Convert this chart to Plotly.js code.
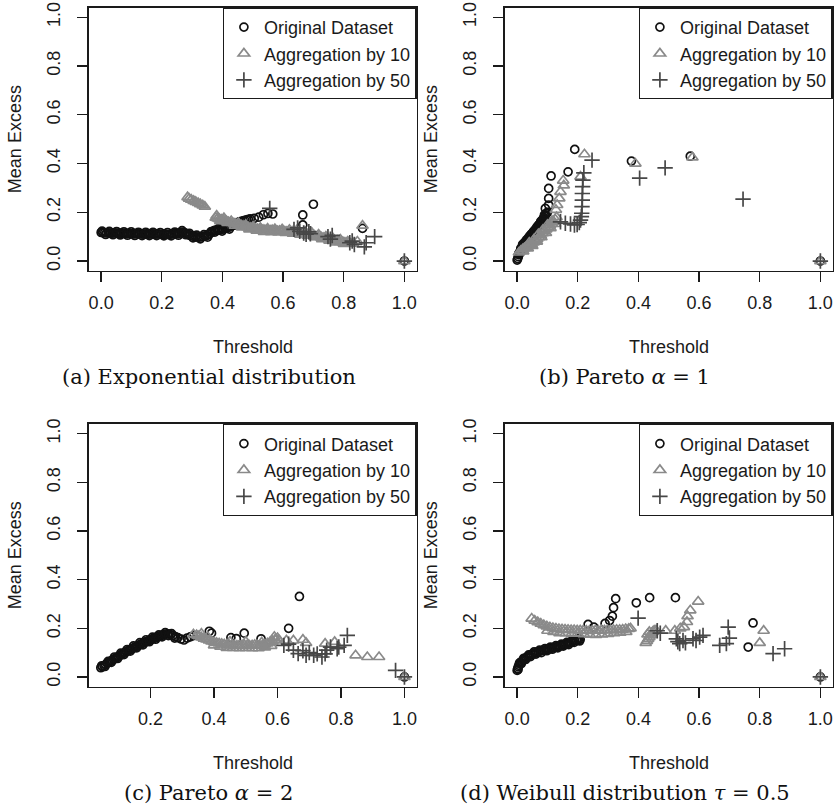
<!DOCTYPE html>
<html>
<head>
<meta charset="utf-8">
<script src="https://cdn.plot.ly/plotly-3.0.1.min.js"></script>
<style>
  html, body { margin: 0; padding: 0; background: #ffffff; }
  #chart { width: 836px; height: 807px; }
</style>
</head>
<body>
<div id="chart"></div>
<script>
// Mean excess plots: [threshold, mean excess] pairs for each data set.

// (a) Exponential distribution
const expOriginal = [
  [0,.117],[.006,.116],[.012,.117],[.018,.115],[.024,.116],[.03,.115],[.036,.114],[.042,.116],[.048,.115],[.054,.114],
  [.06,.113],[.066,.115],[.072,.114],[.078,.113],[.084,.112],[.09,.114],[.096,.113],[.102,.112],[.108,.111],[.114,.113],
  [.12,.112],[.126,.111],[.132,.112],[.138,.11],[.144,.111],[.15,.112],[.156,.11],[.162,.111],[.168,.112],[.174,.111],
  [.18,.11],[.186,.112],[.192,.111],[.198,.11],[.204,.109],[.21,.111],[.216,.11],[.222,.109],[.228,.11],[.234,.111],
  [.24,.112],[.246,.113],[.252,.112],[.258,.114],[.264,.117],[.27,.119],[.276,.116],[.282,.112],[.288,.108],[.294,.105],
  [.3,.103],[.306,.101],[.312,.099],[.318,.098],[.324,.098],[.33,.099],[.336,.1],[.342,.102],[.348,.104],[.354,.108],
  [.36,.114],[.366,.12],[.372,.125],[.378,.127],[.384,.126],[.39,.128],[.396,.13],[.402,.131],[.408,.133],[.414,.135],
  [.42,.138],[.426,.141],[.432,.144],[.438,.148],[.444,.155],[.45,.158],[.456,.161],[.462,.163],[.468,.165],[.474,.167],
  [.48,.169],[.486,.171],[.492,.173],
  [.003,.123],[.015,.109],[.027,.122],[.039,.108],[.051,.121],[.063,.107],[.075,.12],[.087,.106],[.099,.12],[.111,.105],
  [.123,.118],[.135,.104],[.147,.118],[.159,.104],[.171,.118],[.183,.104],[.195,.117],[.207,.103],[.219,.117],[.231,.103],
  [.243,.119],[.255,.106],[.267,.125],[.279,.108],[.291,.114],[.303,.095],[.315,.106],[.327,.091],[.339,.108],[.351,.098],
  [.363,.121],[.375,.119],[.387,.133],[.399,.123],[.411,.14],[.423,.131],[.435,.15],[.447,.149],
  [.505,.175],[.52,.18],[.535,.19],[.55,.195],[.566,.193],
  [.665,.189],[.665,.148],[.70,.233],[.862,.134],[1,0]
];
const expAgg10 = [
  [.285,.262],[.29,.256],[.297,.252],[.305,.247],[.312,.243],[.32,.238],[.327,.233],[.335,.228],[.342,.223],
  [.378,.178],[.384,.175],[.39,.172],[.396,.17],[.402,.168],[.408,.165],[.414,.163],[.42,.16],[.426,.158],[.432,.156],
  [.438,.154],[.444,.152],[.45,.15],[.456,.148],[.462,.146],[.468,.144],[.474,.142],[.48,.14],[.486,.138],[.492,.136],
  [.498,.135],[.504,.133],[.51,.132],[.516,.131],[.522,.13],[.528,.129],[.534,.128],[.54,.127],[.546,.127],[.552,.126],
  [.558,.125],[.564,.127],[.57,.124],[.576,.125],[.582,.123],[.588,.124],[.594,.122],[.6,.124],[.606,.121],[.612,.12],
  [.618,.122],[.624,.119],[.63,.121],[.636,.117],[.642,.118],[.648,.122],[.654,.115],[.66,.112],[.666,.114],[.672,.11],
  [.678,.112],[.684,.107],[.69,.109],[.696,.113],[.702,.105],[.708,.101],[.714,.099],[.72,.103],[.726,.097],[.732,.095],
  [.738,.093],[.744,.096],[.75,.091],[.756,.089],[.762,.086],[.768,.084],[.774,.081],[.78,.083],[.786,.079],[.792,.081],
  [.798,.077],[.804,.075],[.81,.073],[.816,.076],[.822,.071],[.83,.073],[.845,.08],
  [.381,.186],[.393,.164],[.405,.176],[.417,.156],[.429,.164],[.441,.145],[.453,.156],[.465,.138],[.477,.148],[.489,.13],
  [.501,.141],[.513,.125],[.525,.136],[.537,.12],[.549,.133],[.561,.119],[.573,.131],[.585,.117],[.597,.13],[.609,.115],
  [.621,.128],[.633,.112],[.645,.126],[.657,.108],[.669,.12],[.681,.104],[.693,.117],[.705,.098],[.717,.108],[.729,.09],
  [.741,.1],[.753,.084],[.765,.092],[.777,.076],[.789,.088],[.801,.07],[.813,.08],
  [.862,.145],[1,0]
];
const expAgg50 = [
  [.556,.216],[.636,.13],[.648,.136],[.655,.122],[.668,.115],[.676,.11],[.685,.12],[.69,.112],[.748,.1],[.756,.09],
  [.762,.105],[.82,.075],[.828,.082],[.835,.068],[.868,.058],[.874,.075],[.902,.1],[1,0]
];

// (b) Pareto alpha = 1
const par1Original = [
  [0,.004],[.002,.01],[.004,.018],[.006,.026],[.008,.033],[.01,.04],[.013,.047],[.016,.053],[.019,.058],[.022,.064],
  [.025,.069],[.028,.074],[.031,.079],[.034,.084],[.037,.089],[.04,.094],[.043,.099],[.046,.104],[.049,.109],[.052,.114],
  [.055,.119],[.058,.124],[.061,.129],[.064,.134],[.067,.139],[.07,.144],[.073,.149],[.076,.155],[.079,.16],[.082,.166],
  [.085,.172],[.088,.178],[.091,.184],[.094,.19],[.097,.196],[.1,.2],
  [.005,.03],[.012,.052],[.018,.068],[.024,.075],[.03,.086],[.036,.094],[.042,.104],[.048,.112],[.054,.122],[.06,.13],
  [.066,.141],[.072,.149],[.078,.163],[.084,.168],[.09,.189],[.015,.045],[.03,.07],[.045,.095],[.06,.12],[.075,.148],
  [.09,.175],
  [.093,.216],[.104,.23],[.104,.257],[.104,.298],[.112,.349],[.168,.366],[.19,.458],[.377,.41],[.571,.43],[1,0]
];
const par1Agg10 = [
  [.006,.035],[.012,.042],[.018,.048],[.024,.053],[.03,.058],[.036,.062],[.042,.066],[.048,.07],[.054,.076],[.06,.082],
  [.066,.09],[.072,.098],[.078,.106],[.084,.114],[.09,.122],[.096,.13],[.102,.138],[.108,.146],[.114,.154],[.12,.162],
  [.126,.17],[.13,.18],
  [.02,.04],[.035,.052],[.05,.062],[.065,.08],[.08,.098],[.095,.115],[.11,.135],[.125,.152],[.04,.075],[.055,.088],
  [.07,.11],[.085,.128],[.1,.148],[.115,.165],
  [.128,.21],[.132,.23],[.139,.257],[.143,.284],[.154,.31],[.152,.33],[.209,.346],[.222,.438],
  [.39,.40],[.578,.425],[1,0]
];
const par1Agg50 = [
  [.143,.161],[.159,.155],[.176,.152],[.189,.148],[.198,.15],[.205,.158],[.209,.168],[.212,.182],[.213,.196],[.214,.223],
  [.215,.25],[.215,.277],[.216,.305],[.217,.332],[.22,.362],[.247,.414],[.404,.34],[.488,.382],[.745,.254],[1,0]
];

// (c) Pareto alpha = 2
const par2Original = [
  [.043,.038],[.048,.042],[.053,.047],[.058,.051],[.063,.056],[.068,.06],[.073,.064],[.078,.068],[.083,.072],[.088,.076],
  [.093,.08],[.098,.084],[.103,.088],[.108,.092],[.113,.096],[.118,.1],[.123,.103],[.128,.107],[.133,.11],[.138,.114],
  [.143,.117],[.148,.121],[.153,.124],[.158,.127],[.163,.13],[.168,.134],[.173,.137],[.178,.14],[.183,.143],[.188,.146],
  [.193,.149],[.198,.152],[.203,.155],[.208,.158],[.213,.16],[.218,.163],[.223,.165],[.228,.168],[.233,.17],[.238,.172],
  [.243,.174],[.248,.176],[.255,.177],[.262,.174],[.27,.17],[.278,.166],[.286,.162],[.296,.156],[.305,.152],[.315,.16],
  [.325,.165],[.335,.17],
  [.046,.046],[.056,.043],[.066,.064],[.076,.06],[.086,.082],[.096,.076],[.106,.098],[.116,.092],[.126,.113],[.136,.106],
  [.146,.128],[.156,.12],[.166,.141],[.176,.132],[.186,.153],[.196,.145],[.206,.164],[.216,.155],[.226,.173],[.236,.165],
  [.246,.182],[.256,.17],[.266,.178],[.276,.16],
  [.385,.188],[.392,.18],[.453,.162],[.47,.158],[.495,.18],[.548,.157],[.635,.2],[.669,.331],[1,0]
];
const par2Agg10 = [
  [.335,.175],[.345,.172],[.352,.168],[.36,.163],[.368,.158],[.376,.154],[.384,.15],[.392,.146],[.4,.143],[.408,.14],
  [.416,.138],[.424,.136],[.432,.134],[.44,.132],[.448,.131],[.456,.13],[.464,.13],[.472,.129],[.48,.13],[.488,.13],
  [.496,.131],[.504,.13],[.512,.129],[.52,.13],[.528,.132],[.536,.131],[.544,.129],[.552,.13],[.56,.134],[.568,.138],
  [.576,.142],[.584,.147],[.592,.153],[.6,.16],[.605,.15],
  [.4,.13],[.42,.125],[.44,.12],[.46,.12],[.48,.118],[.5,.12],[.52,.118],[.54,.118],[.56,.122],[.58,.128],
  [.36,.178],[.38,.165],[.45,.145],[.5,.145],[.55,.142],[.59,.165],
  [.628,.15],[.65,.15],[.68,.153],[.69,.14],[.75,.137],[.78,.144],[.846,.089],[.883,.082],[.92,.082],[1,0]
];
const par2Agg50 = [
  [.62,.13],[.635,.135],[.65,.11],[.665,.096],[.68,.108],[.69,.089],[.70,.1],[.714,.089],[.725,.095],[.74,.082],
  [.75,.095],[.755,.11],[.767,.123],[.788,.116],[.793,.123],[.81,.13],[.82,.171],[.972,.027],[1,0]
];

// (d) Weibull distribution tau = 0.5
const weiOriginal = [
  [0,.027],[.002,.035],[.004,.042],[.006,.048],[.009,.054],[.012,.06],[.016,.065],[.02,.07],[.025,.075],[.03,.08],
  [.035,.084],[.04,.088],[.046,.092],[.052,.095],[.058,.098],[.064,.101],[.07,.104],[.076,.106],[.082,.108],[.088,.11],
  [.094,.112],[.1,.114],[.106,.116],[.112,.118],[.118,.12],[.124,.122],[.13,.124],[.136,.126],[.142,.128],[.148,.13],
  [.154,.133],[.16,.135],[.166,.137],[.172,.14],[.178,.143],[.184,.146],[.19,.149],[.196,.151],[.202,.153],[.208,.155],
  [.003,.03],[.008,.058],[.014,.055],[.022,.077],[.028,.072],[.038,.091],[.044,.084],[.056,.103],[.062,.094],[.074,.11],
  [.08,.1],[.092,.117],[.098,.108],[.11,.123],[.116,.114],[.128,.129],[.134,.12],[.146,.135],[.152,.127],[.164,.142],
  [.17,.133],[.182,.151],[.188,.142],[.2,.158],[.206,.148],
  [.234,.216],[.253,.205],[.29,.22],[.305,.232],[.314,.25],[.318,.285],[.325,.322],[.393,.305],[.437,.326],[.522,.326],
  [.762,.123],[.778,.222],[1,0]
];
const weiAgg10 = [
  [.048,.24],[.058,.232],[.068,.225],[.078,.219],[.088,.213],[.098,.208],[.108,.204],[.118,.201],[.128,.199],[.138,.197],
  [.148,.196],[.158,.195],[.168,.194],[.178,.193],[.188,.193],[.198,.192],[.208,.192],[.218,.191],[.228,.19],[.238,.189],
  [.248,.19],[.258,.191],[.268,.19],[.278,.191],[.288,.192],[.298,.193],[.308,.192],[.318,.193],[.328,.194],[.338,.194],
  [.348,.195],[.358,.197],[.368,.198],[.374,.2],
  [.1,.19],[.12,.185],[.14,.18],[.16,.18],[.18,.178],[.2,.178],[.22,.176],[.24,.174],[.26,.173],[.28,.175],
  [.3,.177],[.32,.18],[.34,.182],[.36,.185],
  [.424,.14],[.428,.148],[.432,.156],[.436,.164],[.44,.172],[.444,.18],[.448,.186],[.452,.19],[.458,.192],[.43,.175],
  [.436,.185],[.49,.19],[.52,.19],[.538,.2],[.55,.205],[.56,.226],[.562,.25],[.571,.274],[.597,.31],[.80,.14],
  [.813,.19],[1,0]
];
const weiAgg50 = [
  [.399,.242],[.462,.19],[.472,.18],[.525,.157],[.53,.145],[.536,.137],[.547,.15],[.555,.14],[.58,.157],[.59,.15],
  [.602,.164],[.613,.171],[.668,.13],[.69,.137],[.696,.205],[.70,.16],[.844,.096],[.882,.116],[1,0]
];

const seriesNames = ['Original Dataset', 'Aggregation by 10', 'Aggregation by 50'];
const tickLabels = ['0.0', '0.2', '0.4', '0.6', '0.8', '1.0'];
const tickValues = [0, 0.2, 0.4, 0.6, 0.8, 1.0];
const captions = [
  '(a) Exponential distribution',
  '(b) Pareto <i>α</i> = 1',
  '(c) Pareto <i>α</i> = 2',
  '(d) Weibull distribution <i>τ</i> = 0.5'
];

const W = 836, H = 807;
const SANS = 'Liberation Sans, Arial, Helvetica, sans-serif';
const SERIF = 'DejaVu Serif, serif';
const INK = '#1a1a1a';
const FS = 18;

const panels = [
  { sets: [expOriginal, expAgg10, expAgg50],   box: [89, 416.5, 7.5, 270.8],  xr: [-0.04, 1.04] },
  { sets: [par1Original, par1Agg10, par1Agg50], box: [505, 832.5, 7.5, 270.8], xr: [-0.04, 1.04] },
  { sets: [par2Original, par2Agg10, par2Agg50], box: [89, 416.5, 424, 686.7],  xr: [0.0058, 1.038] },
  { sets: [weiOriginal, weiAgg10, weiAgg50],    box: [505, 832.5, 424, 686.7], xr: [-0.04, 1.04] }
];

const markerStyles = [
  { symbol: 'circle-open',      size: 8,  color: '#111111', line: { width: 1.7, color: '#111111' } },
  { symbol: 'triangle-up-open', size: 10, color: '#8a8a8a', line: { width: 1.7, color: '#8a8a8a' } },
  { symbol: 'cross-thin',       size: 11, color: '#474747', line: { width: 1.7, color: '#474747' } }
];

const traces = [];
const layout = {
  width: W, height: H,
  margin: { l: 0, r: 0, t: 0, b: 0 },
  paper_bgcolor: '#ffffff',
  plot_bgcolor: '#ffffff',
  font: { family: SANS, size: FS, color: INK },
  annotations: [],
  showlegend: true
};

panels.forEach((p, i) => {
  const n = i === 0 ? '' : String(i + 1);
  const xa = 'x' + n, ya = 'y' + n;
  const legendId = 'legend' + n;
  const [l, r, t, b] = p.box;

  p.sets.forEach((pts, k) => {
    traces.push({
      type: 'scatter', mode: 'markers',
      name: seriesNames[k],
      x: pts.map(d => d[0]),
      y: pts.map(d => d[1]),
      xaxis: xa, yaxis: ya,
      legend: legendId,
      marker: markerStyles[k],
      hoverinfo: 'x+y'
    });
  });

  const common = {
    showgrid: false, zeroline: false,
    showline: true, mirror: true, linecolor: INK, linewidth: 1.6,
    ticks: 'outside', ticklen: 10, tickwidth: 1.4, tickcolor: INK,
    tickfont: { family: SANS, size: FS, color: INK },
    fixedrange: true
  };
  const xTicks = p.xr[0] > 0 ? tickValues.slice(1) : tickValues;
  const xLabels = p.xr[0] > 0 ? tickLabels.slice(1) : tickLabels;

  layout['xaxis' + n] = Object.assign({}, common, {
    domain: [l / W, r / W], anchor: ya, range: p.xr,
    tickmode: 'array', tickvals: xTicks, ticktext: xLabels,
    ticklabelstandoff: 5
  });
  layout['yaxis' + n] = Object.assign({}, common, {
    domain: [1 - b / H, 1 - t / H], anchor: xa, range: [-0.04, 1.04],
    tickmode: 'array', tickvals: tickValues, ticktext: tickLabels,
    tickangle: -90, ticklabelstandoff: 10
  });

  layout[legendId] = {
    x: r / W, xanchor: 'right', y: 1 - t / H, yanchor: 'top',
    bgcolor: '#ffffff', bordercolor: INK, borderwidth: 1.4,
    font: { family: SANS, size: FS, color: INK },
    tracegroupgap: 0
  };

  const cx = (l + r) / 2;
  const cy = (t + b) / 2;
  layout.annotations.push(
    { text: 'Mean Excess', xref: 'paper', yref: 'paper', x: (l - 74) / W, y: 1 - cy / H,
      textangle: -90, showarrow: false, xanchor: 'center', yanchor: 'middle',
      font: { family: SANS, size: FS, color: INK } },
    { text: 'Threshold', xref: 'paper', yref: 'paper', x: cx / W, y: 1 - (b + 76) / H,
      showarrow: false, xanchor: 'center', yanchor: 'middle',
      font: { family: SANS, size: FS, color: INK } },
    { text: captions[i], xref: 'paper', yref: 'paper', x: (cx - 44) / W, y: 1 - (b + 106) / H,
      showarrow: false, xanchor: 'center', yanchor: 'middle',
      font: { family: SERIF, size: 21, color: '#111111' } }
  );
});

Plotly.newPlot('chart', traces, layout, { displayModeBar: false, staticPlot: true });
</script>
</body>
</html>
